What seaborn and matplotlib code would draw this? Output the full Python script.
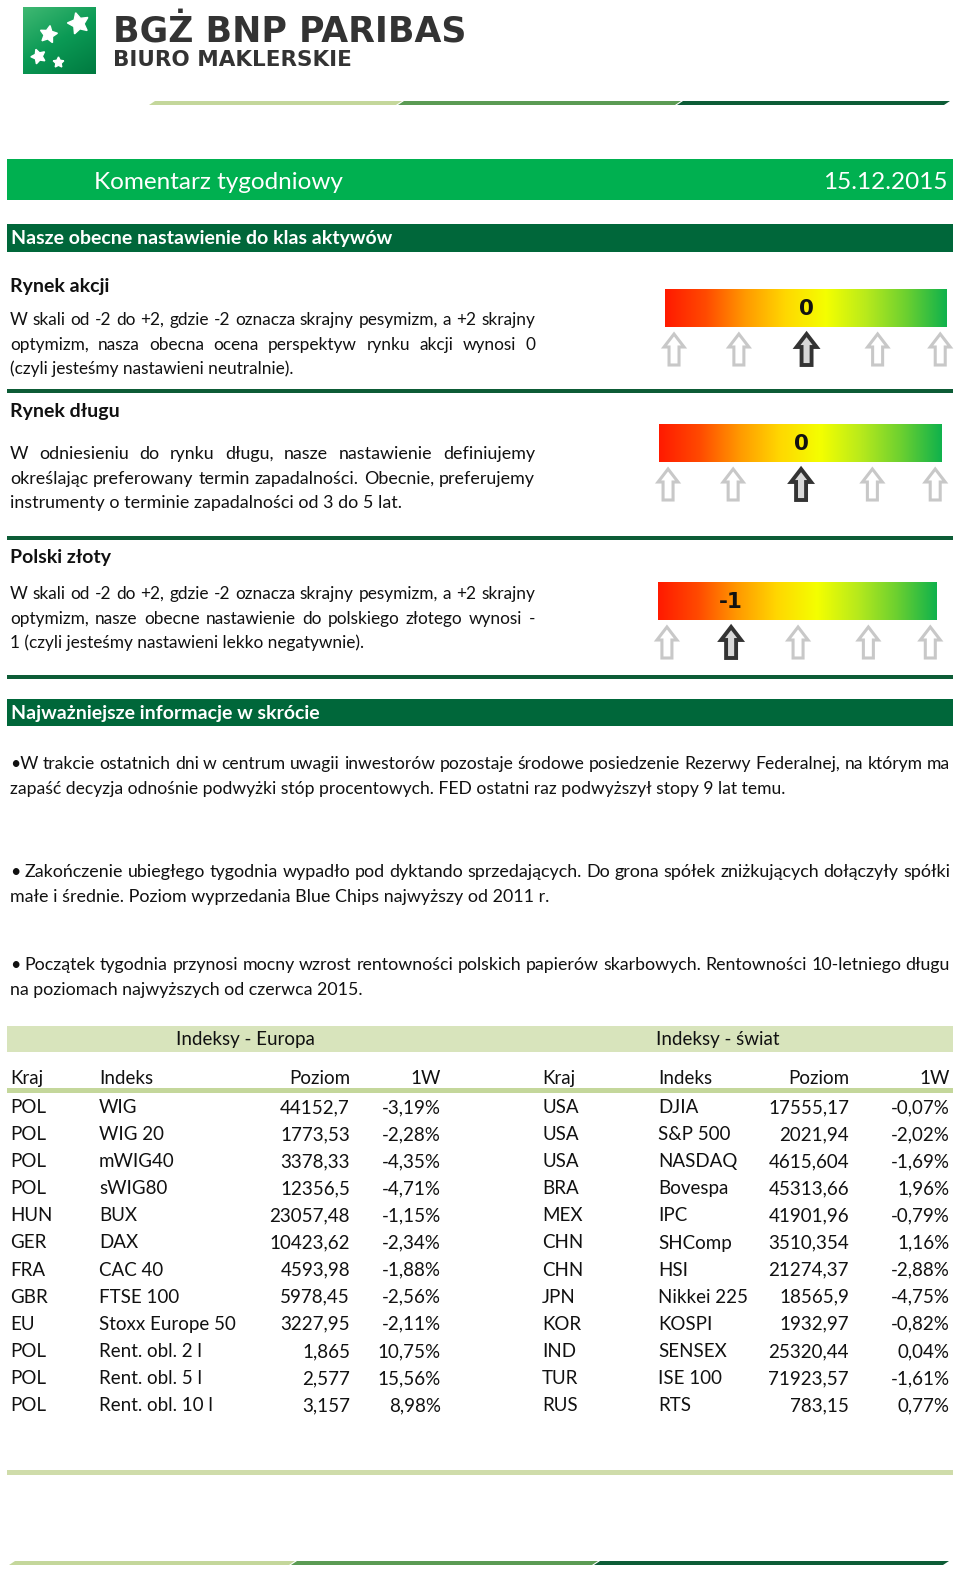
import numpy as np
import matplotlib
matplotlib.use("Agg")
import matplotlib.pyplot as plt
from matplotlib.patches import Rectangle, Polygon
from matplotlib.font_manager import FontProperties
import seaborn as sns

# ------------------------------------------------------------------ data
logo_line1 = "BGŻ BNP PARIBAS"
logo_line2 = "BIURO MAKLERSKIE"
header_title = "Komentarz tygodniowy"
header_date = "15.12.2015"
section_title_1 = "Nasze obecne nastawienie do klas aktywów"
section_title_2 = "Najważniejsze informacje w skrócie"

gauge_names = ["Rynek akcji", "Rynek długu", "Polski złoty"]
gauge_values = [0, 0, -1]
gauge_scale = [-2, -1, 0, 1, 2]
gauge_labels = ["0", "0", "-1"]

gauge_text_1 = ["W skali od -2 do +2, gdzie -2 oznacza skrajny pesymizm, a +2 skrajny",
                "optymizm, nasza obecna ocena perspektyw rynku akcji wynosi 0",
                "(czyli jesteśmy nastawieni neutralnie)."]
gauge_text_2 = ["W odniesieniu do rynku długu, nasze nastawienie definiujemy",
                "określając preferowany termin zapadalności. Obecnie, preferujemy",
                "instrumenty o terminie zapadalności od 3 do 5 lat."]
gauge_text_3 = ["W skali od -2 do +2, gdzie -2 oznacza skrajny pesymizm, a +2 skrajny",
                "optymizm, nasze obecne nastawienie do polskiego złotego wynosi -",
                "1 (czyli jesteśmy nastawieni lekko negatywnie)."]

bullet_1 = ["•W trakcie ostatnich dni w centrum uwagii inwestorów pozostaje środowe posiedzenie Rezerwy Federalnej, na którym ma",
            "zapaść decyzja odnośnie podwyżki stóp procentowych. FED ostatni raz podwyższył stopy 9 lat temu."]
bullet_2 = ["• Zakończenie ubiegłego tygodnia wypadło pod dyktando sprzedających. Do grona spółek zniżkujących dołączyły spółki",
            "małe i średnie. Poziom wyprzedania Blue Chips najwyższy od 2011 r."]
bullet_3 = ["• Początek tygodnia przynosi mocny wzrost rentowności polskich papierów skarbowych. Rentowności 10-letniego długu",
            "na poziomach najwyższych od czerwca 2015."]

table_titles = ["Indeksy - Europa", "Indeksy - świat"]
table_columns = ["Kraj", "Indeks", "Poziom", "1W"]

eu_kraj = ["POL", "POL", "POL", "POL", "HUN", "GER", "FRA", "GBR", "EU", "POL", "POL", "POL"]
eu_indeks = ["WIG", "WIG 20", "mWIG40", "sWIG80", "BUX", "DAX", "CAC 40", "FTSE 100",
             "Stoxx Europe 50", "Rent. obl. 2 l", "Rent. obl. 5 l", "Rent. obl. 10 l"]
eu_poziom = ["44152,7", "1773,53", "3378,33", "12356,5", "23057,48", "10423,62", "4593,98",
             "5978,45", "3227,95", "1,865", "2,577", "3,157"]
eu_1w = ["-3,19%", "-2,28%", "-4,35%", "-4,71%", "-1,15%", "-2,34%", "-1,88%", "-2,56%",
         "-2,11%", "10,75%", "15,56%", "8,98%"]

sw_kraj = ["USA", "USA", "USA", "BRA", "MEX", "CHN", "CHN", "JPN", "KOR", "IND", "TUR", "RUS"]
sw_indeks = ["DJIA", "S&P 500", "NASDAQ", "Bovespa", "IPC", "SHComp", "HSI", "Nikkei 225",
             "KOSPI", "SENSEX", "ISE 100", "RTS"]
sw_poziom = ["17555,17", "2021,94", "4615,604", "45313,66", "41901,96", "3510,354", "21274,37",
             "18565,9", "1932,97", "25320,44", "71923,57", "783,15"]
sw_1w = ["-0,07%", "-2,02%", "-1,69%", "1,96%", "-0,79%", "1,16%", "-2,88%", "-4,75%",
         "-0,82%", "0,04%", "-1,61%", "0,77%"]

# ------------------------------------------------------------------ style
sns.set_theme(style="white")
FAM = ["Lato", "DejaVu Sans"]
plt.rcParams["font.family"] = FAM

GREEN = "#00b050"
DARK = "#00673a"
OLIVE = "#c4d79b"
BAND = "#d8e4bc"
MID = "#5b9b54"
DEEP = "#0d5c36"
TXT = "#111111"

W, H = 960, 1570
fig = plt.figure(figsize=(W / 100, H / 100), dpi=100)
ax = fig.add_axes([0, 0, 1, 1])
ax.set_xlim(0, W)
ax.set_ylim(H, 0)
ax.axis("off")
renderer = fig.canvas.get_renderer()


def twidth(s, size, weight="normal", family=FAM):
    fp = FontProperties(family=family, size=size, weight=weight)
    w, _, _ = renderer.get_text_width_height_descent(s, fp, ismath=False)
    return w


def justify(line, x0, x1, y, size, color=TXT):
    words = line.split(" ")
    widths = [twidth(w, size) for w in words]
    gap = (x1 - x0 - sum(widths)) / max(len(words) - 1, 1)
    x = x0
    for w, wd in zip(words, widths):
        ax.text(x, y, w, fontsize=size, color=color, va="baseline", ha="left")
        x += wd + gap


def paragraph(lines, x0, x1, y0, step, size, min_gap=4.8):
    # shrink only if the words cannot fit with a minimal inter-word gap
    need = 0
    for l in lines[:-1]:
        words = l.split(" ")
        need = max(need, sum(twidth(w, size) for w in words) + min_gap * (len(words) - 1))
    if need > (x1 - x0):
        size = size * (x1 - x0) / need
    for i, line in enumerate(lines):
        y = y0 + i * step
        if i < len(lines) - 1:
            justify(line, x0, x1, y, size)
        else:
            ax.text(x0, y, line, fontsize=size, color=TXT, va="baseline", ha="left")


def slanted(x0, x1, y, th, color, slant=3):
    ax.add_patch(Polygon([(x0 + slant, y - th / 2), (x1 + slant, y - th / 2),
                          (x1 - slant, y + th / 2), (x0 - slant, y + th / 2)],
                         closed=True, color=color, lw=0))


def arrow(cx, top, height, active):
    hw, hh, sw = 10, 13, 5
    pts = [(cx, top), (cx + hw, top + hh), (cx + sw, top + hh), (cx + sw, top + height),
           (cx - sw, top + height), (cx - sw, top + hh), (cx - hw, top + hh)]
    if active:
        ax.add_patch(Polygon(pts, closed=True, fc="#d8d8d8", ec="#333333", lw=2.8, zorder=3))
    else:
        ax.add_patch(Polygon(pts, closed=True, fc="white", ec="#c8c8c8", lw=2.2, zorder=3))


# ------------------------------------------------------------------ logo
logo_cmap = sns.blend_palette(["#3fb872", "#0b9a55", "#007a40"], as_cmap=True)
gx, gy = np.meshgrid(np.linspace(0, 1, 60), np.linspace(0, 1, 60))
ax.imshow(0.6 * gy + 0.4 * gx, cmap=logo_cmap, extent=(23, 96, 74, 7), aspect="auto",
          interpolation="bilinear", zorder=1)
for (sx, sy, ms, ang) in [(78, 23, 16, 15), (48, 34, 13, -10), (38, 56, 11, 20), (58, 62, 8, 0)]:
    ax.plot(sx, sy, marker=(5, 1, ang), ms=ms, color="white", mec="white", zorder=2)

lf = ["DejaVu Sans"]
s1 = min(24 * 360 / twidth(logo_line1, 24, "bold", lf), 25)
s2 = min(14 * 265 / twidth(logo_line2, 14, "bold", lf), 15.5)
ax.text(113, 41, logo_line1, fontsize=s1, fontweight="bold", family=lf, color="#333333",
        va="baseline", ha="left")
ax.text(113, 66, logo_line2, fontsize=s2, fontweight="bold", family=lf,
        color="#333333", va="baseline", ha="left")

slanted(152, 399, 103, 4, OLIVE)
slanted(401, 678, 103, 4, MID)
slanted(680, 947, 103, 4, DEEP)

# ------------------------------------------------------------------ header banners
ax.add_patch(Rectangle((7, 159), 946, 41, color=GREEN, lw=0))
ax.text(94, 189, header_title, fontsize=17.5, fontweight="normal", color="white",
        va="baseline", ha="left")
ax.text(948, 189, header_date, fontsize=17.5, fontweight="normal", color="white",
        va="baseline", ha="right")

ax.add_patch(Rectangle((7, 224), 946, 28, color=DARK, lw=0))
ax.text(11, 244, section_title_1, fontsize=14, fontweight="bold", color="white",
        va="baseline", ha="left")

# ------------------------------------------------------------------ gauges
PARA = 13.2
BODY = 13
gauge_boxes = [(665, 947, 289, 327), (659, 942, 424, 462), (658, 937, 582, 620)]
arrow_frac = [0.032, 0.262, 0.502, 0.754, 0.976]
head_y = [292, 417, 563]
para_y = [325, 459, 599]
texts = [gauge_text_1, gauge_text_2, gauge_text_3]
sep_y = [391, 538, 677]
grad_cmap = sns.blend_palette(["#ff1a00", "#ff4a00", "#ff9a00", "#ffd800", "#f4ff00",
                               "#b8ea1c", "#6cd030", "#10b24c"], as_cmap=True)
grad = np.linspace(0, 1, 256)[None, :]

for k in range(3):
    ax.text(10, head_y[k], gauge_names[k], fontsize=14, fontweight="bold", color=TXT,
            va="baseline", ha="left")
    paragraph(texts[k], 10, 535, para_y[k], 24.6, PARA)
    x0, x1, y0, y1 = gauge_boxes[k]
    ax.imshow(grad, cmap=grad_cmap, extent=(x0, x1, y1, y0), aspect="auto",
              interpolation="bilinear", zorder=1)
    xs = [x0 + f * (x1 - x0) for f in arrow_frac]
    for v, ax_x in zip(gauge_scale, xs):
        arrow(ax_x, y1 + 7, 31, v == gauge_values[k])
    lx = xs[gauge_scale.index(gauge_values[k])]
    ax.text(lx, (y0 + y1) / 2 + 1, gauge_labels[k], fontsize=15.5, fontweight="bold",
            family=["DejaVu Sans"], color="#111111", va="center", ha="center", zorder=4)
    ax.add_patch(Rectangle((7, sep_y[k] - 2), 946, 4, color=DEEP, lw=0))

# ------------------------------------------------------------------ news
ax.add_patch(Rectangle((7, 699), 946, 27, color=DARK, lw=0))
ax.text(11, 719, section_title_2, fontsize=14, fontweight="bold", color="white",
        va="baseline", ha="left")

for lines, y in zip([bullet_1, bullet_2, bullet_3], [769, 877, 970]):
    paragraph(lines, 10, 950, y, 24.8, BODY)

# ------------------------------------------------------------------ table
TS = 13.5
ax.add_patch(Rectangle((7, 1026), 946, 26, color=BAND, lw=0))
ax.text(245, 1045, table_titles[0], fontsize=TS, color=TXT, va="baseline", ha="center")
ax.text(718, 1045, table_titles[1], fontsize=TS, color=TXT, va="baseline", ha="center")

col_x = [(10, "left"), (99, "left"), (350, "right"), (441, "right"),
         (542, "left"), (658, "left"), (849, "right"), (950, "right")]
hdr = table_columns + table_columns
for (x, ha), t in zip(col_x, hdr):
    ax.text(x, 1084, t, fontsize=TS, color=TXT, va="baseline", ha=ha)
ax.add_patch(Rectangle((7, 1088), 946, 5, color=OLIVE, lw=0))

cols = [eu_kraj, eu_indeks, eu_poziom, eu_1w, sw_kraj, sw_indeks, sw_poziom, sw_1w]
for i in range(len(eu_kraj)):
    y = 1113 + i * 27.1
    for (x, ha), col in zip(col_x, cols):
        ax.text(x, y, col[i], fontsize=TS, color=TXT, va="baseline", ha=ha)

ax.add_patch(Rectangle((7, 1470), 946, 5, color="#cfdcaa", lw=0))

slanted(12, 292, 1563, 4, OLIVE)
slanted(294, 595, 1563, 4, MID)
slanted(597, 946, 1563, 4, DEEP)

ax.set_xlim(0, W)
ax.set_ylim(H, 0)
fig.savefig("out.png", dpi=100, facecolor="white")
